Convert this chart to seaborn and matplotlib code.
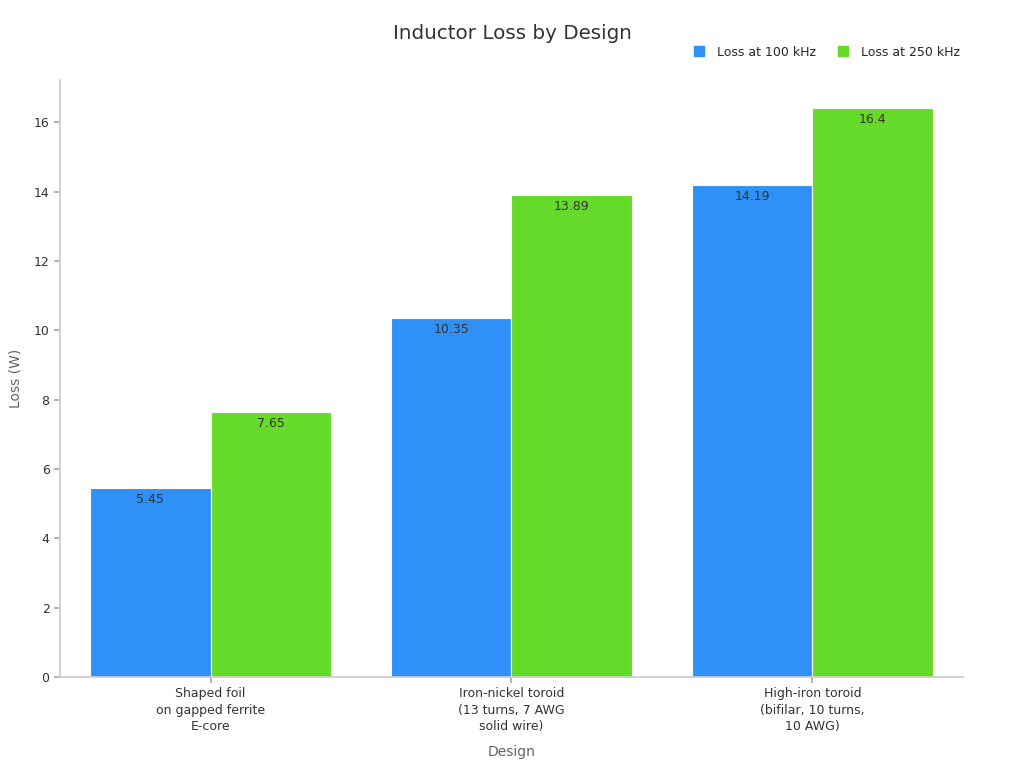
import pandas as pd
import matplotlib.pyplot as plt
import seaborn as sns

designs = ["Shaped foil\non gapped ferrite\nE-core",
           "Iron-nickel toroid\n(13 turns, 7 AWG\nsolid wire)",
           "High-iron toroid\n(bifilar, 10 turns,\n10 AWG)"]
loss_100k = [5.45, 10.35, 14.19]
loss_250k = [7.65, 13.89, 16.4]
series = ["Loss at 100 kHz", "Loss at 250 kHz"]
colors = ["#2F91F7", "#66DA28"]

df = pd.DataFrame({
    "Design": designs * 2,
    "Loss": loss_100k + loss_250k,
    "Series": [series[0]] * 3 + [series[1]] * 3,
})

sns.set_theme(style="ticks")
plt.rcParams['font.family'] = ['DejaVu Sans']

fig = plt.figure(figsize=(10.24, 7.68), dpi=100)
ax = fig.add_axes([0.0586, 0.1185, 0.8818, 0.7775])

sns.barplot(data=df, x="Design", y="Loss", hue="Series", palette=colors,
            width=0.8, edgecolor="white", linewidth=0.8, saturation=1,
            ax=ax, legend=False)

for cont in ax.containers:
    labels = [f"{v:g}" for v in cont.datavalues]
    ax.bar_label(cont, labels=labels, padding=-13, fontsize=9, color="#333333")

ax.set_xlim(-0.5, 2.5)
ax.set_ylim(0, 17.22)
ax.set_yticks(range(0, 17, 2))
ax.set_xlabel("Design", fontsize=10, color="#666666", labelpad=8)
ax.set_ylabel("Loss (W)", fontsize=10, color="#666666", labelpad=8)
ax.tick_params(labelsize=9, colors="#333333", length=4)
ax.tick_params(axis="both", color="#aaaaaa")
for lbl in ax.get_xticklabels():
    lbl.set_linespacing(1.35)
for s in ["left", "bottom"]:
    ax.spines[s].set_color("#cccccc")
sns.despine(ax=ax)

handles = [plt.Line2D([], [], marker="s", linestyle="", markersize=7,
                      color=c) for c in colors]
fig.legend(handles, series, loc="upper right", bbox_to_anchor=(0.948, 0.955),
           ncol=2, frameon=False, fontsize=9, handletextpad=0.4,
           columnspacing=1.2)

fig.suptitle("Inductor Loss by Design", fontsize=14.3, color="#333333", y=0.969)

fig.savefig("out.png", dpi=100)
